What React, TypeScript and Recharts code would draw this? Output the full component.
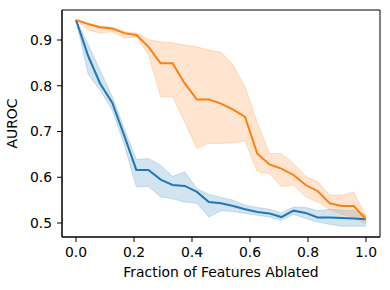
import { ComposedChart, Area, Line, XAxis, YAxis, ReferenceArea, Label } from "recharts";

const fractions = [
  0, 0.042, 0.083, 0.125, 0.167, 0.208, 0.25, 0.292, 0.333, 0.375, 0.417, 0.458, 0.5,
  0.542, 0.583, 0.625, 0.667, 0.708, 0.75, 0.792, 0.833, 0.875, 0.917, 0.958, 1.0,
];

const blueMean = [
  0.944, 0.865, 0.805, 0.763, 0.69, 0.616, 0.616, 0.595, 0.583, 0.581, 0.568, 0.546, 0.543,
  0.537, 0.53, 0.524, 0.521, 0.513, 0.527, 0.522, 0.512, 0.512, 0.511, 0.51, 0.508,
];
const blueLow = [
  0.944, 0.825, 0.79, 0.747, 0.67, 0.579, 0.58, 0.557, 0.553, 0.546, 0.543, 0.513, 0.527,
  0.525, 0.521, 0.517, 0.513, 0.506, 0.519, 0.51, 0.502, 0.497, 0.493, 0.493, 0.493,
];
const blueHigh = [
  0.944, 0.89, 0.834, 0.776, 0.705, 0.639, 0.641, 0.626, 0.602, 0.612, 0.575, 0.563, 0.556,
  0.55, 0.539, 0.534, 0.53, 0.522, 0.535, 0.534, 0.527, 0.53, 0.528, 0.528, 0.517,
];

const orangeMean = [
  0.944, 0.935, 0.928, 0.925, 0.915, 0.911, 0.885, 0.849, 0.849, 0.805, 0.77, 0.77, 0.761,
  0.748, 0.732, 0.652, 0.628, 0.619, 0.605, 0.583, 0.57, 0.543, 0.537, 0.537, 0.508,
];
const orangeLow = [
  0.944, 0.922, 0.915, 0.918, 0.904, 0.907, 0.867, 0.776, 0.776, 0.72, 0.663, 0.674, 0.674,
  0.675, 0.68, 0.612, 0.608, 0.579, 0.583, 0.557, 0.546, 0.529, 0.519, 0.513, 0.497,
];
const orangeHigh = [
  0.944, 0.935, 0.931, 0.928, 0.918, 0.915, 0.901, 0.896, 0.894, 0.889, 0.885, 0.878, 0.874,
  0.845, 0.798, 0.72, 0.652, 0.652, 0.63, 0.602, 0.59, 0.561, 0.561, 0.568, 0.515,
];

const xTicks = [0, 0.2, 0.4, 0.6, 0.8, 1.0];
const yTicks = [0.5, 0.6, 0.7, 0.8, 0.9];

const data = fractions.map((x, i) => ({
  x,
  blue: blueMean[i],
  blueBand: [blueLow[i], blueHigh[i]],
  orange: orangeMean[i],
  orangeBand: [orangeLow[i], orangeHigh[i]],
}));

const font = "DejaVu Sans";
const tick = { fill: "#000", fontSize: 13.9, fontFamily: font };
const X_DOMAIN = [-0.0483, 1.0483];
const Y_DOMAIN = [0.4694, 0.9656];

export default function App() {
  return (
    <div style={{ position: "fixed", top: 0, left: 0, background: "#fff" }}>
      <ComposedChart width={390} height={290} data={data} margin={{ top: 10, right: 10, left: 0, bottom: 0 }}>
        <XAxis
          dataKey="x" type="number" domain={X_DOMAIN} ticks={xTicks} allowDataOverflow
          tickFormatter={(v: number) => v.toFixed(1)} tick={tick} tickSize={5} tickMargin={5}
          height={53} stroke="#000" tickLine={{ stroke: "#000" }}
        >
          <Label value="Fraction of Features Ablated" position="insideBottom" offset={13}
            style={{ fontFamily: font, fontSize: 13.9, fill: "#000" }} />
        </XAxis>
        <YAxis
          type="number" domain={Y_DOMAIN} ticks={yTicks} allowDataOverflow
          tickFormatter={(v: number) => v.toFixed(1)} tick={tick} tickSize={5} tickMargin={5}
          width={62} stroke="#000" tickLine={{ stroke: "#000" }}
        >
          <Label value="AUROC" angle={-90} position="insideLeft" offset={12}
            style={{ fontFamily: font, fontSize: 13.9, fill: "#000", textAnchor: "middle" }} />
        </YAxis>
        <Area type="linear" dataKey="blueBand" fill="#1f77b4" fillOpacity={0.2}
          stroke="#1f77b4" strokeOpacity={0.2} strokeWidth={1} isAnimationActive={false} />
        <Area type="linear" dataKey="orangeBand" fill="#ff7f0e" fillOpacity={0.2}
          stroke="#ff7f0e" strokeOpacity={0.2} strokeWidth={1} isAnimationActive={false} />
        <Line type="linear" dataKey="blue" stroke="#1f77b4" strokeWidth={2} dot={false} isAnimationActive={false} />
        <Line type="linear" dataKey="orange" stroke="#ff7f0e" strokeWidth={2} dot={false} isAnimationActive={false} />
        <ReferenceArea x1={X_DOMAIN[0]} x2={X_DOMAIN[1]} y1={Y_DOMAIN[0]} y2={Y_DOMAIN[1]}
          fill="none" stroke="#000" strokeWidth={1} fillOpacity={0} ifOverflow="visible" />
      </ComposedChart>
    </div>
  );
}
